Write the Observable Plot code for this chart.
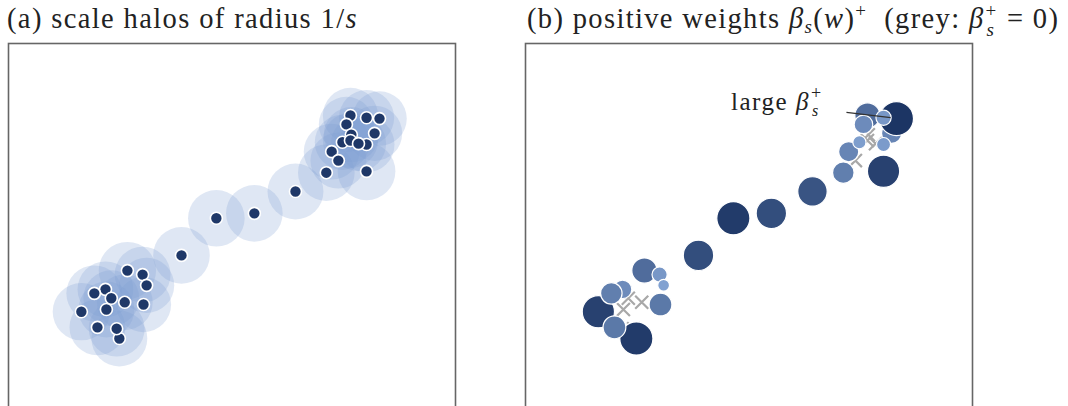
<!DOCTYPE html>
<html><head><meta charset="utf-8">
<script src="https://cdn.jsdelivr.net/npm/d3@7"></script>
<script src="https://cdn.jsdelivr.net/npm/@observablehq/plot@0.6"></script>
<style>
html,body{margin:0;padding:0;background:#fff;overflow:hidden;width:1068px;height:406px}
#wrap{position:relative;width:1068px;height:406px;overflow:hidden}
.title{position:absolute;top:4px;font-family:"Liberation Serif","DejaVu Serif",serif;font-size:28.5px;color:#222;white-space:nowrap;line-height:30px}
.title sub{font-size:19px;vertical-align:-5px;line-height:0}
.title sup{font-size:19px;vertical-align:11px;line-height:0}
.stk{display:inline-block;position:relative;width:14px;height:10px}
.stk .u{position:absolute;left:1px;top:-22px;font-size:19px}
.stk .d{position:absolute;left:2px;top:-3px;font-size:19px;font-style:italic}
.ann{position:absolute;left:731px;top:89px;font-family:"Liberation Serif",serif;font-size:25px;color:#222;white-space:nowrap;line-height:26px}
.ann .stk .u{top:-20px;font-size:18px}
.ann .stk .d{top:-2px;font-size:16px}
.panel{position:absolute;top:40px}
</style>
</head><body>
<div id="wrap">
  <div class="title" id="ta" style="left:7px"></div>
  <div class="title" id="tb" style="left:527px"></div>
  <div class="ann" id="ann"></div>
  <div class="panel" id="pa" style="left:0px"></div>
  <div class="panel" id="pb" style="left:517px"></div>
</div>
<script>
// point positions (data units), in drawing order
const px = [8.19, 8.30, 4.65, 2.48, 8.01, 1.63, 5.50, 3.87, 6.42, 2.17, 7.65, 2.66, 3.02, 1.99, 7.11, 1.92, 7.23, 7.56, 8.01, 3.00, 8.01, 7.47, 3.09, 7.67, 7.65, 7.83, 7.38, 2.30, 2.60, 2.19, 2.42];
const py = [7.99, 8.32, 6.09, 3.40, 7.14, 4.00, 6.20, 5.26, 6.69, 4.50, 8.39, 4.92, 4.16, 3.65, 7.11, 4.41, 7.58, 8.19, 8.34, 4.83, 7.74, 7.79, 4.59, 7.96, 7.83, 7.76, 7.38, 4.30, 4.21, 4.05, 3.62];
// scale s of each point (halo radius 1/s)
const scaleS = [1.62, 1.64, 1.58, 1.60, 1.55, 1.56, 1.58, 1.58, 1.60, 1.60, 1.62, 1.56, 1.62, 1.60, 1.58, 1.60, 1.60, 1.62, 1.62, 1.60, 1.60, 1.62, 1.62, 1.62, 1.62, 1.62, 1.60, 1.60, 1.60, 1.60, 1.60];
// positive weights beta_s(w)^+
const betaPlus = [0.35, 1.00, 0.95, 0.95, 0.90, 0.90, 0.80, 0.80, 0.75, 0.30, 0.55, 0.55, 0.45, 0.45, 0.40, 0.40, 0.35, 0.30, 0.20, 0.20, 0.17, 0.15, 0.12, 0, 0, 0, 0, 0, 0, 0, 0];
// annotation pointer (data units)
const annX = [7.18, 8.17];
const annY = [8.46, 8.34];

const titleA = '(a) scale halos of radius 1/<i>s</i>';
const titleB = '(b) positive weights <i>β</i><sub><i>s</i></sub>(<i>w</i>)<sup>+</sup>&nbsp; (grey: <i>β</i><span class="stk"><span class="u">+</span><span class="d">s</span></span>&nbsp;= 0)';
const annText = 'large <i>β</i><span class="stk"><span class="u">+</span><span class="d">s</span></span>';

function fit(id, html, target) {
  const el = document.getElementById(id);
  el.innerHTML = html;
  const w = el.getBoundingClientRect().width;
  const n = el.textContent.length;
  el.style.letterSpacing = ((target - w) / n) + "px";
}
fit("ta", titleA, 351);
fit("tb", titleB, 535);
fit("ann", annText, 96);

const pts = px.map((x, i) => ({x, y: py[i], s: scaleS[i], b: betaPlus[i]}));
const pos = pts.filter(d => d.b > 0);
const zero = pts.filter(d => d.b === 0);
const ann = [{x1: annX[0], y1: annY[0], x2: annX[1], y2: annY[1]}];

const common = {
  width: 460, height: 470,
  marginLeft: 8, marginRight: 5, marginTop: 3, marginBottom: 20,
  x: {domain: [0, 10], axis: null},
  y: {domain: [0, 10], axis: null}
};

const A = Plot.plot({
  ...common,
  r: {type: "linear", domain: [0, 1], range: [0, 44.7]},
  marks: [
    Plot.dot(pts, {x: "x", y: "y", r: d => 1 / d.s, fill: "#7f9fd3", fillOpacity: 0.25, sort: null}),
    Plot.dot(pts, {x: "x", y: "y", r: 6, fill: "#1f3868", stroke: "white", strokeWidth: 1.6}),
    Plot.frame({stroke: "#666", strokeWidth: 1.6})
  ]
});
document.getElementById("pa").appendChild(A);

const B = Plot.plot({
  ...common,
  r: {domain: [0, 1], range: [0, 17]},
  color: {type: "linear", domain: [0, 1], range: ["#8fb0e0", "#1c3564"]},
  marks: [
    Plot.dot(zero, {x: "x", y: "y", symbol: "times", r: 6, stroke: "#a8a8a8", strokeWidth: 2.2}),
    Plot.dot(pos, {x: "x", y: "y", r: "b", fill: "b", stroke: "white", strokeWidth: 1.2, sort: null}),
    Plot.link(ann, {x1: "x1", y1: "y1", x2: "x2", y2: "y2", stroke: "#333", strokeWidth: 1.2}),
    Plot.frame({stroke: "#666", strokeWidth: 1.6})
  ]
});
document.getElementById("pb").appendChild(B);
</script>
</body></html>
